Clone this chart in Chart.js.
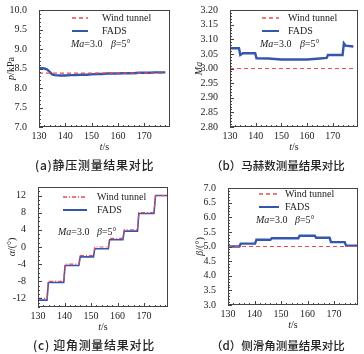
<!DOCTYPE html>
<html>
<head>
<meta charset="utf-8">
<script src="https://cdn.jsdelivr.net/npm/chart.js@4.4.1/dist/chart.umd.min.js"></script>
<style>
  body { margin: 0; background: #fff; width: 364px; height: 354px; position: relative; overflow: hidden; }
  canvas { position: absolute; }
  .cap { position: absolute; font-family: "Noto Sans CJK SC"; font-weight: 500; font-size: 12px; line-height: 14px; color: #222; white-space: nowrap; }
</style>
</head>
<body>
<canvas id="ca" width="182" height="177" style="left:0;top:0"></canvas>
<canvas id="cb" width="182" height="177" style="left:182px;top:0"></canvas>
<canvas id="cc" width="182" height="177" style="left:0;top:177px"></canvas>
<canvas id="cd" width="182" height="177" style="left:182px;top:177px"></canvas>
<div class="cap" style="left:35px;top:158px;letter-spacing:0.7px">(a)静压测量结果对比</div>
<div class="cap" style="left:211px;top:158px;font-size:11.5px">（b）马赫数测量结果对比</div>
<div class="cap" style="left:33px;top:338px;letter-spacing:0.7px">(c) 迎角测量结果对比</div>
<div class="cap" style="left:211px;top:338px;font-size:11.5px">（d）侧滑角测量结果对比</div>
<script>
const xTicks = [130, 140, 150, 160, 170];

// (a) static pressure, kPa
const tA = [130, 131, 132, 133, 134, 135, 136, 138, 140, 142, 144, 146, 148, 150, 152, 154, 156, 158, 160, 162, 164, 166, 168, 170, 172, 174, 176, 178];
const pFads = [8.51, 8.51, 8.50, 8.48, 8.42, 8.35, 8.33, 8.32, 8.32, 8.33, 8.33, 8.34, 8.34, 8.35, 8.36, 8.36, 8.37, 8.37, 8.37, 8.38, 8.38, 8.38, 8.39, 8.39, 8.39, 8.40, 8.40, 8.40];
const tWindA = [130, 178];
const pWind = [8.38, 8.38];
const yTicksA = [7.0, 7.5, 8.0, 8.5, 9.0, 9.5, 10.0];

// (b) Mach number
const tB = [130, 133.5, 134, 135, 139.8, 140.3, 145, 150, 155, 160, 165, 167.6, 168.1, 173.8, 174.3, 175, 178];
const maFads = [3.069, 3.069, 3.046, 3.052, 3.052, 3.035, 3.034, 3.031, 3.031, 3.031, 3.034, 3.036, 3.046, 3.046, 3.086, 3.078, 3.075];
const tWindB = [130, 179];
const maWind = [3.0, 3.0];
const yTicksB = [2.80, 2.85, 2.90, 2.95, 3.00, 3.05, 3.10, 3.15, 3.20];

// (c) angle of attack, one level per step
const stepStart = [130, 133.9, 140.2, 145.9, 151.4, 157.0, 162.5, 168.0, 174.3];
const stepEnd = [133.4, 139.7, 145.4, 150.9, 156.5, 162.0, 167.5, 173.7, 179];
const alphaWind = [-12, -8, -4, -2, 0, 2, 4, 8, 12];
const alphaFads = [-12.4, -8.3, -4.3, -2.3, -0.4, 1.7, 3.7, 7.8, 12.0];
const yTicksC = [-12, -8, -4, 0, 4, 8, 12];

// (d) sideslip angle
const tD = [130, 134.3, 134.8, 140.2, 140.7, 146.0, 146.5, 156.5, 157.0, 162.7, 163.2, 168.3, 168.8, 174.0, 174.5, 179];
const betaFads = [5.00, 5.00, 5.10, 5.10, 5.23, 5.23, 5.28, 5.28, 5.37, 5.37, 5.30, 5.30, 5.15, 5.15, 5.03, 5.03];
const tWindD = [130, 179];
const betaWind = [5.0, 5.0];
const yTicksD = [3.0, 3.5, 4.0, 4.5, 5.0, 5.5, 6.0, 6.5, 7.0];

const BLUE = '#3556ad';
const RED = '#ec4a4f';
const SERIF = '"Liberation Serif", "DejaVu Serif", serif';

const pts = (xs, ys) => xs.map((x, i) => ({ x: x, y: ys[i] }));
const stepPts = (ys) => {
  const out = [];
  ys.forEach((y, i) => { out.push({ x: stepStart[i], y: y }); out.push({ x: stepEnd[i], y: y }); });
  return out;
};

function drawParts(ctx, parts, x, y, size) {
  let cx = x;
  parts.forEach(p => {
    ctx.font = (p[1] ? 'italic ' : '') + size + 'px ' + SERIF;
    ctx.fillText(p[0], cx, y);
    cx += ctx.measureText(p[0]).width;
  });
  return cx - x;
}
function partsWidth(ctx, parts, size) {
  let w = 0;
  parts.forEach(p => { ctx.font = (p[1] ? 'italic ' : '') + size + 'px ' + SERIF; w += ctx.measureText(p[0]).width; });
  return w;
}

const framePlugin = {
  id: 'frame',
  afterDatasetsDraw(chart) {
    const o = chart.options.plugins.frame;
    const { ctx, chartArea: a, scales } = chart;
    const xs = scales.x, ys = scales.y;
    ctx.save();
    ctx.strokeStyle = '#444';
    ctx.lineWidth = 1;
    ctx.strokeRect(a.left + 0.5, a.top + 0.5, a.right - a.left - 1, a.bottom - a.top - 1);
    // inward ticks on left and bottom
    ctx.beginPath();
    for (let v = xs.min; v <= xs.max + 1e-9; v += o.xMinor) {
      const px = Math.round(xs.getPixelForValue(v)) + 0.5;
      const major = Math.abs(v / 10 - Math.round(v / 10)) < 1e-6;
      ctx.moveTo(px, a.bottom); ctx.lineTo(px, a.bottom - (major ? 4 : 2));
    }
    const y0 = Math.ceil(ys.min / o.yMinor - 1e-6) * o.yMinor;
    for (let v = y0; v <= ys.max + 1e-9; v += o.yMinor) {
      const py = Math.round(ys.getPixelForValue(v)) + 0.5;
      const r = v / o.yMajor;
      const major = Math.abs(r - Math.round(r)) < 1e-6;
      ctx.moveTo(a.left, py); ctx.lineTo(a.left + (major ? 4 : 2), py);
    }
    ctx.stroke();

    // legend
    ctx.fillStyle = '#222';
    ctx.textBaseline = 'middle';
    const L = o.legend;
    chart.data.datasets.forEach((ds, i) => {
      const ly = a.top + L.y[i];
      ctx.save();
      ctx.strokeStyle = ds.borderColor;
      ctx.lineWidth = i === 0 ? 1.3 : 2;
      ctx.setLineDash(ds.borderDash || []);
      ctx.beginPath();
      ctx.moveTo(a.left + L.x0, ly); ctx.lineTo(a.left + L.x1, ly);
      ctx.stroke();
      ctx.restore();
      ctx.font = '10px ' + SERIF;
      ctx.fillText(ds.label, a.left + L.tx, ly);
    });
    const my = a.top + L.my;
    drawParts(ctx, [['Ma', true], ['=3.0', false]], a.left + L.mx, my, 10);
    drawParts(ctx, [['β', true], ['=5°', false]], a.left + L.bx, my, 10);

    // axis titles
    const tw = partsWidth(ctx, [['t', true], ['/s', false]], 10);
    drawParts(ctx, [['t', true], ['/s', false]], (a.left + a.right) / 2 - tw / 2, a.bottom + 20, 10);
    ctx.save();
    ctx.translate(o.yTitleX, (a.top + a.bottom) / 2);
    ctx.rotate(-Math.PI / 2);
    const yw = partsWidth(ctx, o.yTitle, 10);
    drawParts(ctx, o.yTitle, -yw / 2, 0, 10);
    ctx.restore();
    ctx.restore();
  }
};

function makePanel(id, box, datasets, ycfg, extra) {
  const H = 177;
  new Chart(document.getElementById(id), {
    type: 'line',
    data: { datasets: datasets },
    options: {
      responsive: false,
      animation: false,
      layout: { padding: { left: 0, top: box.top, right: 182 - box.right, bottom: 0 } },
      elements: { point: { radius: 0 }, line: { tension: 0 } },
      plugins: { legend: { display: false }, tooltip: { enabled: false }, frame: extra },
      scales: {
        x: {
          type: 'linear', min: 130, max: box.xmax,
          grid: { display: false }, border: { display: false },
          afterBuildTicks: s => { s.ticks = xTicks.map(v => ({ value: v })); },
          afterFit: s => { s.height = H - box.bottom; },
          ticks: { autoSkip: false, maxRotation: 0, padding: -5, color: '#222', font: { family: SERIF, size: 10 } }
        },
        y: {
          min: ycfg.min, max: ycfg.max,
          grid: { display: false }, border: { display: false },
          afterBuildTicks: s => { s.ticks = ycfg.ticks.map(v => ({ value: v })); },
          afterFit: s => { s.width = box.left; },
          ticks: { autoSkip: false, padding: 4, color: '#222', font: { family: SERIF, size: 10 },
                   callback: v => v.toFixed(ycfg.dec) }
        }
      }
    },
    plugins: [framePlugin]
  });
}

// (a)
makePanel('ca', { left: 39, right: 170, top: 8, bottom: 127, xmax: 179.8 }, [
  { label: 'Wind tunnel', data: pts(tWindA, pWind), borderColor: RED, borderWidth: 1.2, borderDash: [4, 3] },
  { label: 'FADS', data: pts(tA, pFads), borderColor: BLUE, borderWidth: 2.4 }
], { min: 7, max: 10, ticks: yTicksA, dec: 1 }, {
  xMinor: 2, yMinor: 0.1, yMajor: 0.5,
  legend: { x0: 33, x1: 49, tx: 63, y: [8, 21], mx: 32, bx: 72, my: 34 },
  yTitle: [['p', true], ['/kPa', false]], yTitleX: 11
});

// (b)
makePanel('cb', { left: 48, right: 176, top: 8, bottom: 127, xmax: 179.8 }, [
  { label: 'Wind tunnel', data: pts(tWindB, maWind), borderColor: RED, borderWidth: 1.2, borderDash: [4, 3] },
  { label: 'FADS', data: pts(tB, maFads), borderColor: BLUE, borderWidth: 2.4 }
], { min: 2.8, max: 3.2, ticks: yTicksB, dec: 2 }, {
  xMinor: 2, yMinor: 0.01, yMajor: 0.05,
  legend: { x0: 32, x1: 49, tx: 58, y: [8, 21], mx: 30, bx: 70, my: 34 },
  yTitle: [['Ma', true]], yTitleX: 17
});

// (c)
makePanel('cc', { left: 38, right: 168, top: 7, bottom: 130, xmax: 179 }, [
  { label: 'Wind tunnel', data: stepPts(alphaWind), borderColor: RED, borderWidth: 1.2, borderDash: [4, 2, 1, 2] },
  { label: 'FADS', data: stepPts(alphaFads), borderColor: BLUE, borderWidth: 1.6 }
], { min: -14, max: 14, ticks: yTicksC, dec: 0 }, {
  xMinor: 2, yMinor: 1, yMajor: 4,
  legend: { x0: 25, x1: 49, tx: 59, y: [10, 23], mx: 20, bx: 59, my: 45 },
  yTitle: [['α', true], ['/(°)', false]], yTitleX: 12
});

// (d)
makePanel('cd', { left: 46, right: 176, top: 11, bottom: 128, xmax: 179 }, [
  { label: 'Wind tunnel', data: pts(tWindD, betaWind), borderColor: RED, borderWidth: 1.2, borderDash: [4, 3] },
  { label: 'FADS', data: pts(tD, betaFads), borderColor: BLUE, borderWidth: 2.4 }
], { min: 3, max: 7, ticks: yTicksD, dec: 1 }, {
  xMinor: 2, yMinor: 0.1, yMajor: 0.5,
  legend: { x0: 31, x1: 51, tx: 57, y: [6, 19], mx: 28, bx: 67, my: 32 },
  yTitle: [['β', true], ['/(°)', false]], yTitleX: 18
});
</script>
</body>
</html>
